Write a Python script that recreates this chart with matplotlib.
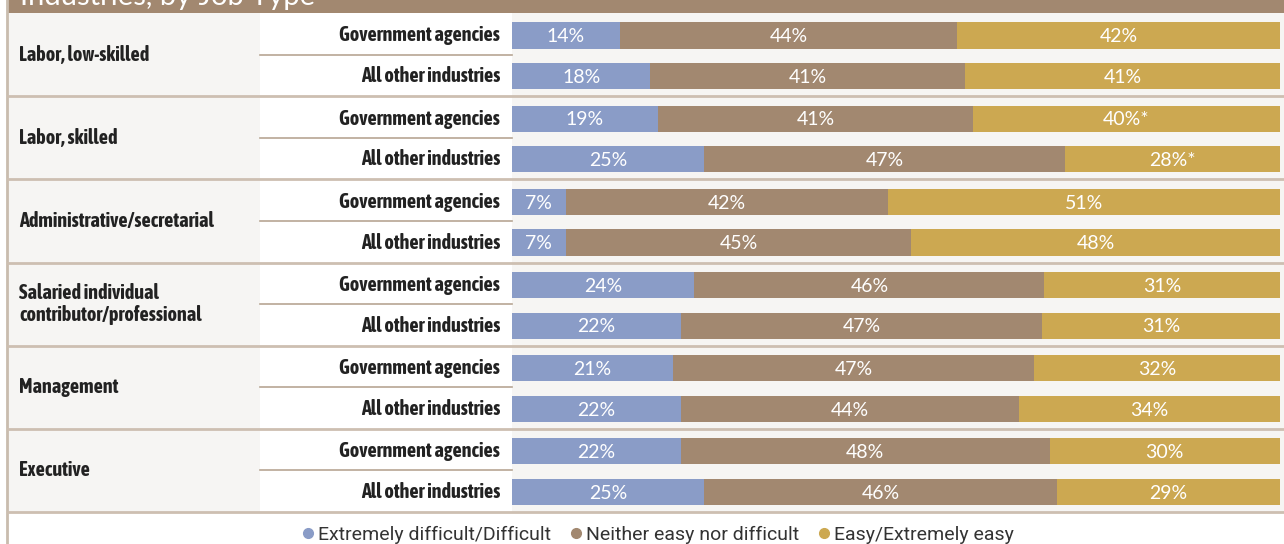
import numpy as np
import matplotlib
matplotlib.use("Agg")
from matplotlib import pyplot as plt
from matplotlib import font_manager
from matplotlib import patheffects
from matplotlib.lines import Line2D
from matplotlib.patches import Rectangle

# job types and the two industry groups
jobTypes = ["Labor, low-skilled", "Labor, skilled", "Administrative/secretarial",
            "Salaried individual\ncontributor/professional", "Management", "Executive"]
industries = ["Government agencies", "All other industries"]

# rows: gov, other, gov, other ...
difficult = [14, 18, 19, 25, 7, 7, 24, 22, 21, 22, 22, 25]
neither = [44, 41, 41, 47, 42, 45, 46, 47, 47, 44, 48, 46]
easy = [42, 41, 40, 28, 51, 48, 31, 31, 32, 34, 30, 29]
easyNote = ["", "", "*", "*", "", "", "", "", "", "", "", ""]

seriesNames = ["Extremely difficult/Difficult", "Neither easy nor difficult", "Easy/Extremely easy"]
colors = ["#8a9cc7", "#a28870", "#cca851"]

# look for a narrow bold font
fl = font_manager.fontManager.ttflist
boldNarrow = sorted(set(f.name for f in fl if ("Narrow" in f.name or "Condensed" in f.name)
                        and f.weight in ("bold", 700)))
anyNarrow = sorted(set(f.name for f in fl if "Narrow" in f.name or "Condensed" in f.name))
fx = []
if boldNarrow:
    labelFont = [boldNarrow[0], "DejaVu Sans"]
elif anyNarrow:
    labelFont = [anyNarrow[0], "DejaVu Sans"]
    fx = [patheffects.withStroke(linewidth=0.9, foreground="#222222")]
else:
    labelFont = ["Roboto", "DejaVu Sans"]
numFont = ["Lato", "DejaVu Sans"]
legFont = ["Roboto", "DejaVu Sans"]

W, H = 1284, 544
fig = plt.figure(figsize=(W / 100, H / 100), dpi=100)
fig.patch.set_facecolor("white")

# background axes in pixel coordinates
bg = fig.add_axes([0, 0, 1, 1])
bg.set_xlim(0, W)
bg.set_ylim(H, 0)
bg.axis("off")

top, bottom = 13, 512
bg.add_patch(Rectangle((7, 0), W, top, color="#a28870", lw=0))
bg.text(20, 5, "Industries, by Job Type", color="white", fontsize=21,
        family=numFont, va="baseline", ha="left")
bg.add_patch(Rectangle((8, top), 252, bottom - top, color="#f6f5f3", lw=0))
bg.add_patch(Rectangle((512, top), W - 512, bottom - top, color="#f6f5f3", lw=0))
bg.plot([7, 7], [0, H], color="#c9bcae", lw=2)

groupH = (bottom - top) / len(jobTypes)
for g, name in enumerate(jobTypes):
    y0 = top + g * groupH
    bg.plot([8, W], [y0 + groupH, y0 + groupH], color="#cdbfb1", lw=2)
    bg.plot([260, 512], [y0 + groupH / 2, y0 + groupH / 2], color="#b8a693", lw=1.2)
    bg.text(19, y0 + groupH / 2, name, fontsize=14.5, fontweight="bold", family=labelFont,
            color="#222222", va="center", ha="left", linespacing=1.15, path_effects=fx)
    for k, ind in enumerate(industries):
        yc = y0 + groupH * (0.27 + 0.49 * k)
        bg.text(500, yc, ind, fontsize=14.5, fontweight="bold", family=labelFont,
                color="#222222", va="center", ha="right", path_effects=fx)

# bar axes
ax = fig.add_axes([512 / W, 1 - bottom / H, 768 / W, (bottom - top) / H])
ax.set_facecolor("none")
n = len(difficult)
ypos = np.array([(i // 2) * 2 + 0.54 + 0.98 * (i % 2) for i in range(n)])
vals = np.array([difficult, neither, easy], dtype=float)
tot = vals.sum(axis=0)
widths = vals / tot * 100
left = np.zeros(n)
for s in range(3):
    ax.barh(ypos, widths[s], left=left, height=0.63, color=colors[s], lw=0)
    for i in range(n):
        txt = "%d%%" % vals[s][i]
        if s == 2:
            txt += easyNote[i]
        ax.text(left[i] + widths[s][i] / 2, ypos[i] + 0.03, txt, ha="center", va="center",
                color="white", fontsize=14, family=numFont)
    left += widths[s]
ax.set_xlim(0, 100)
ax.set_ylim(12, 0)
ax.axis("off")

handles = [Line2D([], [], marker="o", ls="", color=c, markersize=7) for c in colors]
fig.legend(handles, seriesNames, loc="center", bbox_to_anchor=(657 / W, 1 - 535 / H),
           ncol=3, frameon=False, handletextpad=0.1, columnspacing=0.9, handlelength=0.8,
           prop={"family": legFont, "size": 14}, labelcolor="#333333")

fig.savefig("out.png", dpi=100, facecolor="white")
